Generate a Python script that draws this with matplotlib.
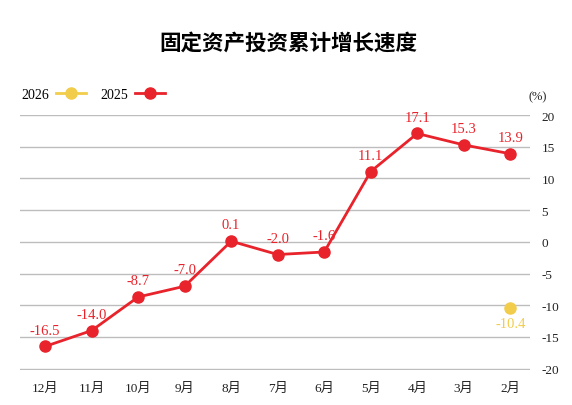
import numpy as np
import matplotlib
matplotlib.use("Agg")
import matplotlib.pyplot as plt

plt.rcParams['font.family'] = ['Liberation Serif', 'Noto Sans CJK SC']
plt.rcParams['axes.unicode_minus'] = False

months = ['2月', '3月', '4月', '5月', '6月', '7月', '8月', '9月', '10月', '11月', '12月']
v2025 = [13.9, 15.3, 17.1, 11.1, -1.6, -2.0, 0.1, -7.0, -8.7, -14.0, -16.5]
v2026 = [-10.4] + [np.nan] * 10
yticks = [20, 15, 10, 5, 0, -5, -10, -15, -20]

red = '#e8232b'
yellow = '#f2cd4b'

fig = plt.figure(figsize=(5.72, 4.06), dpi=100)
ax = fig.add_axes([0.035, 0.085, 0.892, 0.629])

x = np.arange(len(months))
l25, = ax.plot(x, v2025, color=red, lw=2, marker='o', ms=8, label='2025', zorder=3)
l26, = ax.plot(x, v2026, color=yellow, lw=2, marker='o', ms=8, label='2026', zorder=3)

for xi, v in zip(x, v2025):
    ax.annotate(f'{v:.1f}', (xi, v), xytext=(0, 7), textcoords='offset points',
                ha='center', va='bottom', color=red, fontsize=10.5)
for xi, v in zip(x, v2026):
    if not np.isnan(v):
        ax.annotate(f'{v:.1f}', (xi, v), xytext=(0, -7), textcoords='offset points',
                    ha='center', va='top', color=yellow, fontsize=10.5)

ax.set_xlim(10.54, -0.43)
ax.set_ylim(-20.3, 20)
ax.set_yticks(yticks)
ax.set_xticks(x)
ax.set_xticklabels(months)
ax.yaxis.tick_right()
ax.tick_params(axis='both', length=0, labelsize=9.5, colors='#222222')
ax.tick_params(axis='y', pad=8)
ax.tick_params(axis='x', pad=8)
ax.grid(axis='y', color='#bdbdbd', lw=1)
for s in ax.spines.values():
    s.set_visible(False)

fig.text(0.94, 0.76, '(%)', ha='center', va='center', fontsize=9, color='#222222')
fig.text(0.505, 0.895, '固定资产投资累计增长速度', ha='center', va='center',
         fontsize=15.5, fontweight='bold', family=['Noto Sans CJK SC'])

fig.legend(handles=[l26, l25], loc='center left', bbox_to_anchor=(0.015, 0.765),
           ncol=2, frameon=False, markerfirst=False, handlelength=2.2,
           columnspacing=1.0, handletextpad=0.5, fontsize=10)

fig.savefig('out.png', dpi=100)
